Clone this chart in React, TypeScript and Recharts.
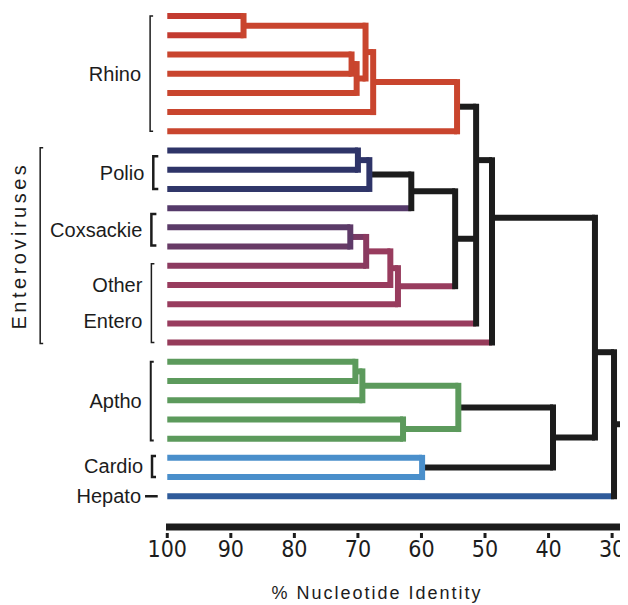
import { LineChart, Line, XAxis, YAxis, ReferenceLine } from 'recharts'

const INK = '#1c1c1c'
const RHINO = '#c9452e'
const POLIO = '#2e3468'
const COX = '#5e3a68'
const ENTERO = '#983c5e'
const APTHO = '#5c9a5c'
const CARDIO = '#4a8fcb'
const HEPATO = '#2f5b9a'

const FONT = "'Liberation Sans', Arial, sans-serif"
const NARROW = "'Liberation Sans Narrow', 'DejaVu Sans Condensed', sans-serif"

// one leaf per row, top to bottom
const leafColors = [
  '#c33b30', '#c33b30', RHINO, RHINO, RHINO, RHINO, RHINO,
  POLIO, POLIO, '#303669',
  '#553a6a', '#5b3b68', '#683b66',
  '#8c3b60', ENTERO, ENTERO, ENTERO, '#963b5a',
  APTHO, APTHO, APTHO, APTHO, APTHO,
  CARDIO, CARDIO,
  HEPATO,
]

// joins: children, % identity where they meet, colour of the join and of the branch leaving it
// row is only given where the drawing does not sit at the mean of its children
const nodes = [
  { id: 'A', kids: ['0', '1'], identity: 88, color: RHINO, tail: RHINO },
  { id: 'B', kids: ['2', '3'], identity: 71, color: RHINO, tail: RHINO },
  { id: 'C', kids: ['B', '4'], identity: 70.2, color: RHINO, tail: RHINO },
  { id: 'D', kids: ['A', 'C'], identity: 68.8, color: RHINO, tail: RHINO },
  { id: 'E', kids: ['D', '5'], identity: 67.6, color: RHINO, tail: RHINO },
  { id: 'F', kids: ['E', '6'], identity: 54.4, color: RHINO, tail: INK },
  { id: 'G', kids: ['7', '8'], identity: 70, color: POLIO, tail: POLIO },
  { id: 'H', kids: ['G', '9'], identity: 68.2, color: POLIO, tail: INK },
  { id: 'I', kids: ['H', '10'], identity: 61.6, color: INK, tail: INK },
  { id: 'J', kids: ['11', '12'], identity: 71.2, color: COX, tail: '#7a3a64' },
  { id: 'K', kids: ['J', '13'], identity: 68.7, color: '#8a3a60', tail: ENTERO },
  { id: 'L', kids: ['K', '14'], identity: 64.9, color: ENTERO, tail: ENTERO },
  { id: 'M', kids: ['L', '15'], identity: 63.7, color: ENTERO, tail: ENTERO },
  { id: 'N', kids: ['I', 'M'], identity: 54.7, color: INK, tail: INK },
  { id: 'O', kids: ['F', 'N', '16'], identity: 51.4, color: INK, tail: INK, row: 7.5 },
  { id: 'P', kids: ['O', '17'], identity: 48.9, color: INK, tail: INK, row: 10.5 },
  { id: 'R', kids: ['18', '19'], identity: 70.4, color: APTHO, tail: APTHO },
  { id: 'S', kids: ['R', '20'], identity: 69.3, color: APTHO, tail: APTHO },
  { id: 'T', kids: ['21', '22'], identity: 62.9, color: APTHO, tail: APTHO },
  { id: 'U', kids: ['S', 'T'], identity: 54.2, color: APTHO, tail: INK },
  { id: 'V', kids: ['23', '24'], identity: 59.9, color: CARDIO, tail: INK },
  { id: 'W', kids: ['U', 'V'], identity: 39.3, color: INK, tail: INK },
  { id: 'X', kids: ['P', 'W'], identity: 32.7, color: INK, tail: INK, row: 17.5 },
  { id: 'Y', kids: ['X', '25'], identity: 29.7, color: INK, tail: INK },
]

const groupNames = ['Rhino', 'Polio', 'Coxsackie', 'Other Entero', 'Aptho', 'Cardio', 'Hepato']
const groupRows = [[0, 6], [7.3, 9], [10.3, 11.95], [12.9, 17], [18, 22.1], [22.9, 24], [25, 25]]
const familyName = 'Enteroviruses'
const familyRows = [6.85, 17.05]

const identityTicks = [100, 90, 80, 70, 60, 50, 40, 30]

// bracket look per group
const bracketStyle: Record<string, { w: number; tick: number; at: number }> = {
  Rhino: { w: 1.5, tick: 3, at: 102.7 },
  Polio: { w: 2.5, tick: 5, at: 102.2 },
  Coxsackie: { w: 2.5, tick: 5, at: 102.5 },
  'Other Entero': { w: 1.5, tick: 3, at: 102.5 },
  Aptho: { w: 2, tick: 3, at: 102.6 },
  Cardio: { w: 2.5, tick: 4, at: 102.4 },
  Hepato: { w: 2.5, tick: 0, at: 103.5 },
}

// ---- dendrogram layout ----
const rowOf: Record<string, number> = {}
const identityOf: Record<string, number> = {}
const tailOf: Record<string, string> = {}
leafColors.forEach((c, i) => {
  rowOf[String(i)] = i
  identityOf[String(i)] = 100
  tailOf[String(i)] = c
})
nodes.forEach(n => {
  const rows = n.kids.map(k => rowOf[k])
  rowOf[n.id] = n.row ?? rows.reduce((s, r) => s + r, 0) / rows.length
  identityOf[n.id] = n.identity
  tailOf[n.id] = n.tail
})

interface Seg { pts: { x: number; y: number }[]; color: string; cap: 'butt' | 'square' }
const across: Seg[] = []
const down: Seg[] = []
nodes.forEach(n => {
  const rows = n.kids.map(k => rowOf[k])
  n.kids.forEach(k => {
    across.push({
      pts: [{ x: identityOf[k], y: rowOf[k] }, { x: n.identity, y: rowOf[k] }],
      color: tailOf[k],
      cap: 'butt',
    })
  })
  down.push({
    pts: [{ x: n.identity, y: Math.min(...rows) }, { x: n.identity, y: Math.max(...rows) }],
    color: n.color,
    cap: 'square',
  })
})
const root = nodes[nodes.length - 1]
across.push({
  pts: [{ x: root.identity, y: rowOf[root.id] }, { x: 27.5, y: rowOf[root.id] }],
  color: INK,
  cap: 'butt',
})

const IdentityTick = (props: any) => {
  const { x, y, payload } = props
  return (
    <g>
      <line x1={x} x2={x} y1={y + 6} y2={y + 11} stroke={INK} strokeWidth={3} />
      <text x={x} y={y + 30} textAnchor="middle" fontFamily={NARROW} fontSize={23} fill={INK}>
        {payload.value}
      </text>
    </g>
  )
}

const groupShape = (name: string) => (p: any) => {
  const st = bracketStyle[name]
  const { x1, y1, x2, y2 } = p
  const lines = name.split(' ')
  if (y1 === y2) {
    const left = Math.min(x1, x2)
    return (
      <g>
        <line x1={x1} x2={x2} y1={y1} y2={y2} stroke={INK} strokeWidth={st.w} />
        <text x={left - 4} y={y1 + 7} textAnchor="end" fontFamily={FONT} fontSize={20} fill={INK}>
          {name}
        </text>
      </g>
    )
  }
  const top = Math.min(y1, y2)
  const bot = Math.max(y1, y2)
  const mid = (top + bot) / 2
  return (
    <g>
      <path
        d={`M${x1 + st.tick},${top} H${x1} V${bot} H${x1 + st.tick}`}
        fill="none"
        stroke={INK}
        strokeWidth={st.w}
      />
      {lines.map((l, i) => (
        <text
          key={l}
          x={x1 - 9}
          y={mid + 7 + (i - (lines.length - 1) / 2) * 36}
          textAnchor="end"
          fontFamily={FONT}
          fontSize={20}
          fill={INK}
        >
          {l}
        </text>
      ))}
    </g>
  )
}

const familyShape = (p: any) => {
  const { x1, y1, y2 } = p
  const top = Math.min(y1, y2)
  const bot = Math.max(y1, y2)
  const cx = x1 - 21
  const cy = (top + bot) / 2
  return (
    <g>
      <path d={`M${x1 + 3},${top} H${x1} V${bot} H${x1 + 3}`} fill="none" stroke={INK} strokeWidth={1.5} />
      <text
        transform={`translate(${cx},${cy}) rotate(-90)`}
        textAnchor="middle"
        dy="0.36em"
        fontFamily={FONT}
        fontSize={20}
        letterSpacing={3.5}
        fill={INK}
      >
        {familyName}
      </text>
    </g>
  )
}

const AxisTitle = (p: any) => {
  const vb = p.viewBox
  return (
    <text
      x={vb.x + vb.width / 2 - 20}
      y={vb.y + vb.height - 6}
      textAnchor="middle"
      fontFamily={FONT}
      fontSize={18}
      letterSpacing={2}
      fill={INK}
    >
      % Nucleotide Identity
    </text>
  )
}

export default function App() {
  return (
    <LineChart width={620} height={597} margin={{ top: 0, right: 0, bottom: 0, left: 158 }}>
      <XAxis
        type="number"
        dataKey="x"
        domain={[27.5, 100.2]}
        reversed
        ticks={identityTicks}
        interval={0}
        height={78}
        tickLine={false}
        tickSize={0}
        tickMargin={0}
        axisLine={{ stroke: INK, strokeWidth: 7 }}
        tick={<IdentityTick />}
        label={{ content: AxisTitle }}
      />
      <YAxis type="number" dataKey="y" domain={[-0.42, 26.6]} reversed hide />
      {[...across, ...down].map((s, i) => (
        <Line
          key={i}
          data={s.pts}
          dataKey="y"
          type="linear"
          stroke={s.color}
          strokeWidth={6}
          strokeLinecap={s.cap}
          dot={false}
          activeDot={false}
          legendType="none"
          isAnimationActive={false}
        />
      ))}
      {groupNames.map((name, i) => {
        const st = bracketStyle[name]
        const [from, to] = groupRows[i]
        const seg =
          from === to
            ? [{ x: st.at, y: from }, { x: st.at - 2, y: from }]
            : [{ x: st.at, y: from }, { x: st.at, y: to }]
        return (
          <ReferenceLine key={name} segment={seg} ifOverflow="visible" shape={groupShape(name)} />
        )
      })}
      <ReferenceLine
        segment={[{ x: 120, y: familyRows[0] }, { x: 120, y: familyRows[1] }]}
        ifOverflow="visible"
        shape={familyShape}
      />
    </LineChart>
  )
}
